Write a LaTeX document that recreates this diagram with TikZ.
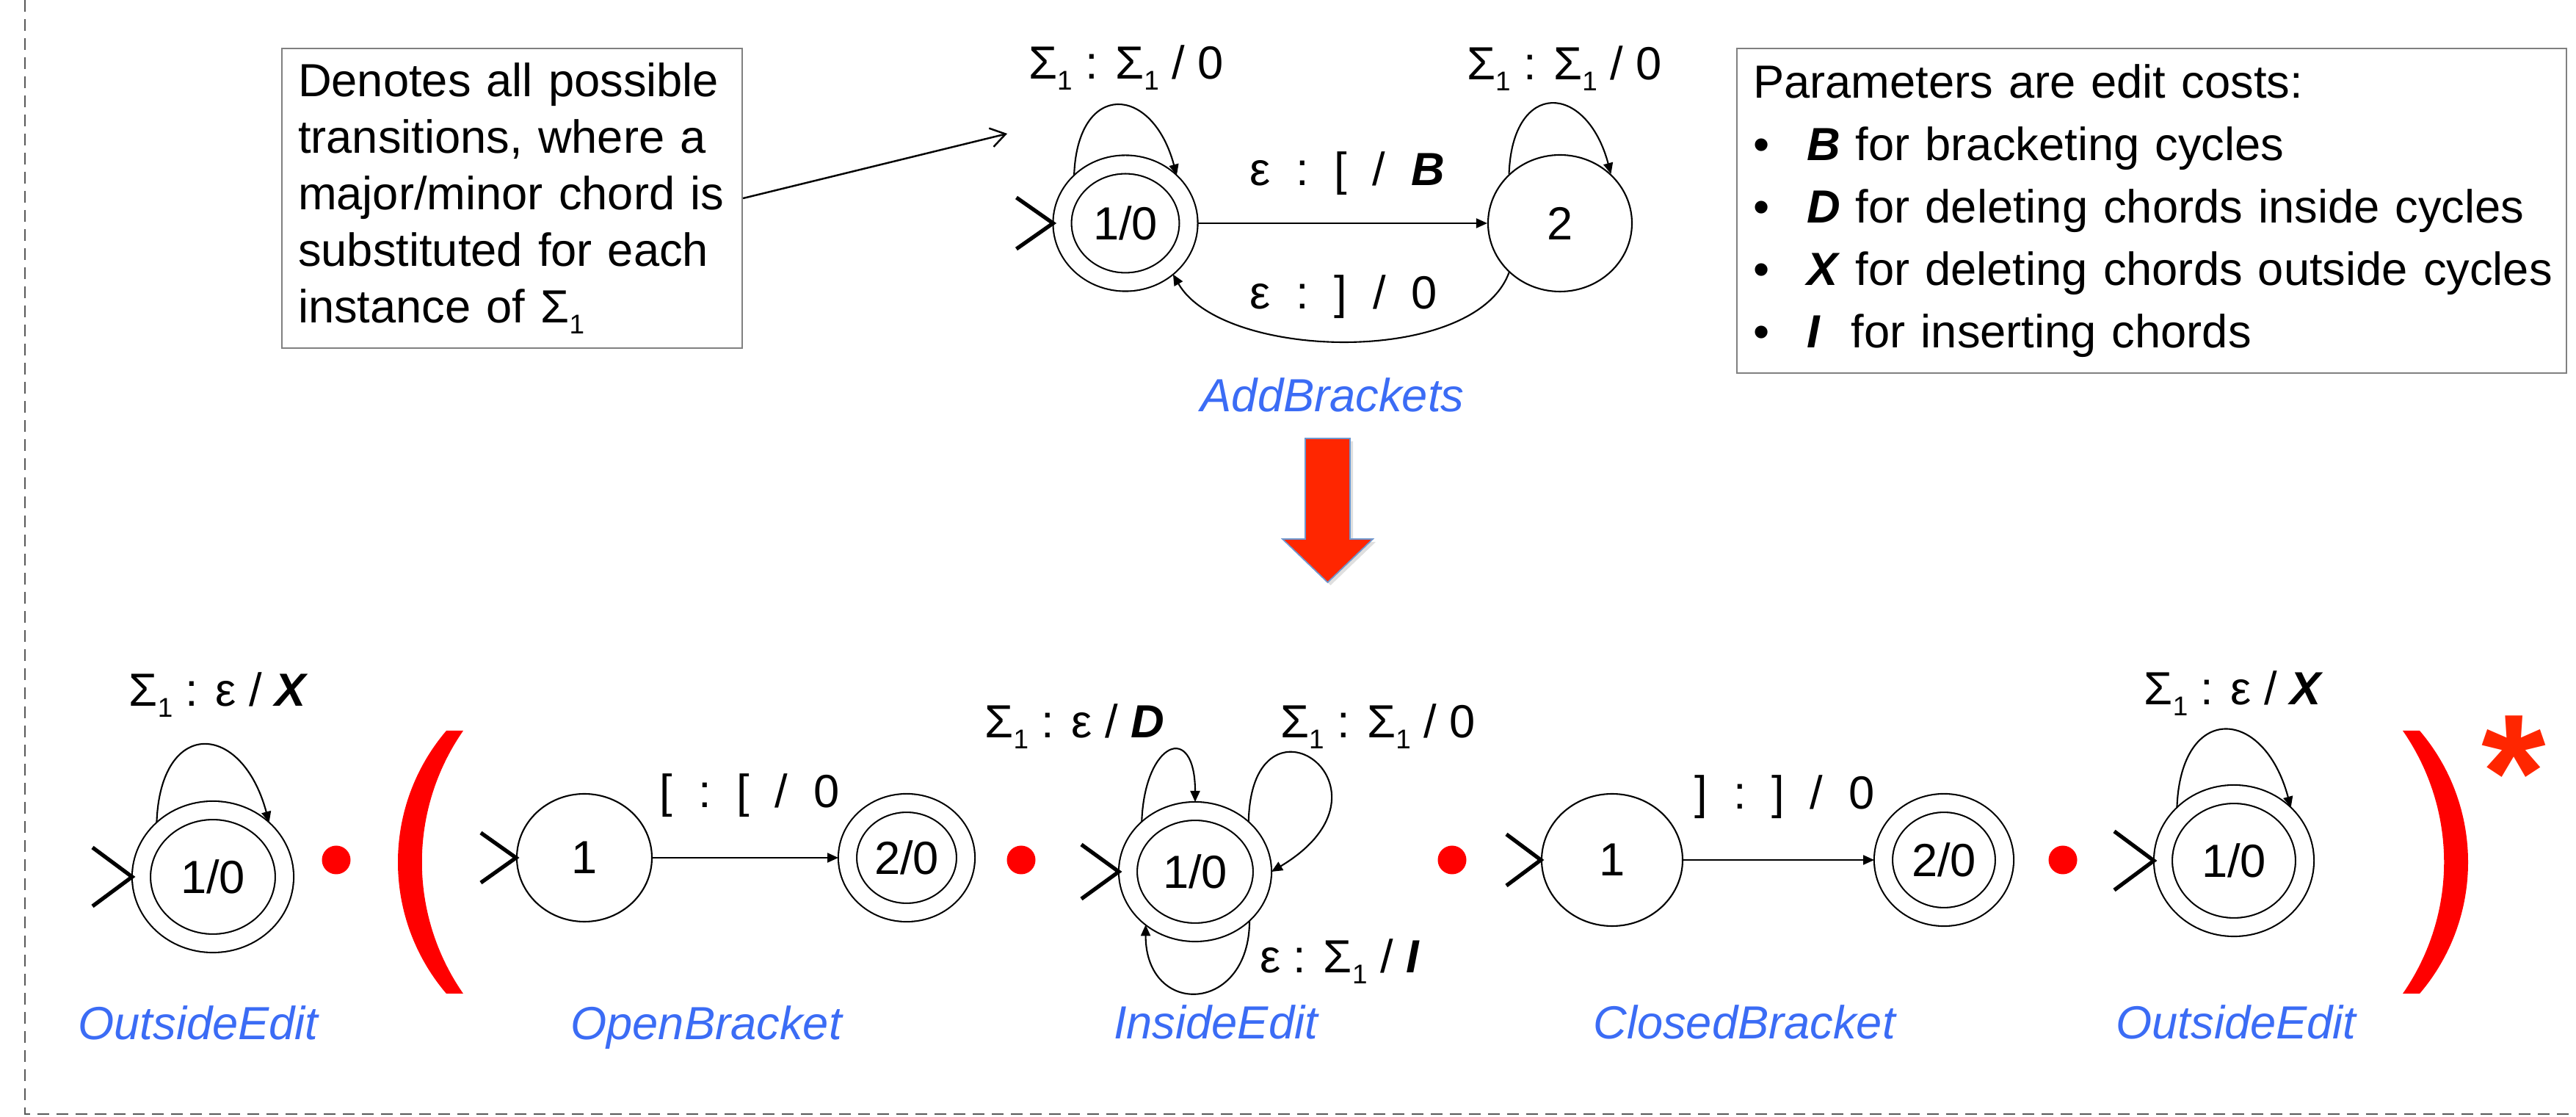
\documentclass[tikz,border=0pt]{standalone}
\usepackage{fontspec}
\setmainfont{Liberation Sans}
\usetikzlibrary{positioning,shapes.geometric,arrows.meta,shadows}
\definecolor{capblue}{RGB}{59,108,245}
\definecolor{arrowred}{RGB}{255,38,0}
\definecolor{rimblue}{RGB}{110,150,205}
\newcommand{\sigone}{Σ\raisebox{-0.23em}{\fontsize{10.5}{10.5}\selectfont 1}}
\newcommand{\cost}[1]{\textbf{\textit{#1}}}
\newcommand{\gp}{\hspace{0.55em}}

\begin{document}
\begin{tikzpicture}[
        font=\fontsize{18}{21.9}\selectfont,
        st/.style={ellipse, draw, line width=0.6pt, inner sep=0pt, minimum width=1.9cm, minimum height=1.8cm},
        accept/.style={double, double distance=0.23cm, outer sep=0.125cm},
        trans/.style={line width=0.6pt, -{Triangle[length=1.5mm,width=1.3mm]}},
        initmark/.style={line width=1.5pt},
        lbl/.style={inner sep=0pt, anchor=base},
        capt/.style={inner sep=0pt, anchor=base, text=capblue, font=\fontsize{18}{21.9}\selectfont\itshape},
        reddot/.style={circle, fill=red, inner sep=0pt, minimum size=0.39cm},
        notebox/.style={draw=gray, line width=0.6pt, align=left, inner xsep=0.22cm, anchor=north west},
    ]
    \useasboundingbox (0,0) rectangle (35.09,15.21);

    % dashed frame (left and bottom sides)
    \draw[gray!70!black, line width=0.7pt, dash pattern=on 0.16cm off 0.1cm] (0.34,15.21) -- (0.34,0.04) -- (35.09,0.04);

    % boxes
    \node[notebox, text width=5.83cm, minimum height=4.08cm] (note) at (3.83,14.56) {Denotes all possible\\transitions, where a\\major/minor chord is\\substituted for each\\instance of \sigone};
    \node[notebox, text width=10.86cm, minimum height=4.42cm, font=\fontsize{18}{24.2}\selectfont] (params) at (23.65,14.56) {Parameters are edit costs:\\
        \mbox{\makebox[0.73cm][l]{\textbullet}\cost{B} for bracketing cycles}\\
        \mbox{\makebox[0.73cm][l]{\textbullet}\cost{D} for deleting chords inside cycles}\\
        \mbox{\makebox[0.73cm][l]{\textbullet}\cost{X} for deleting chords outside cycles}\\
        \mbox{\makebox[0.73cm][l]{\textbullet}\cost{I}\ \ for inserting chords}};

    % AddBrackets
    \node[st, accept, minimum width=1.72cm, minimum height=1.6cm] (a1) at (15.33,12.17) {1/0};
    \node[st, minimum width=1.96cm, minimum height=1.86cm] (a2) at (21.25,12.17) {2};
    \draw[trans] (a1) -- (a2);
    \draw[trans] (a2.224) .. controls +(250:1.36) and +(300:1.36) .. (a1.313);
    \draw[trans] (a1.137) .. controls +(88:1.29) and +(105:1.29) .. (a1.43);
    \draw[trans] (a2.136) .. controls +(88:1.29) and +(105:1.29) .. (a2.44);
    \node[lbl] (la1) at (15.34,14.13) {\sigone{} : \sigone{} / 0};
    \node[lbl] (la2) at (21.31,14.12) {\sigone{} : \sigone{} / 0};
    \node[lbl] (la12) at (18.35,12.68) {ε\gp:\gp[\gp/\gp\cost{B}};
    \node[lbl] (la21) at (18.30,11.00) {ε\gp:\gp]\gp/\gp0};
    \node[capt] (addb) at (18.15,9.60) {AddBrackets};

    \coordinate (tip) at (13.72,13.39);
    \draw[line width=0.7pt, -{Straight Barb[length=2mm,width=2.6mm]}] (note.east) -- (tip);

    % composition arrow
    \filldraw[fill=arrowred, draw=rimblue, line width=0.5pt, drop shadow={opacity=0.25, shadow xshift=0.04cm, shadow yshift=-0.04cm}] (17.78,9.24) -- (17.78,7.87) -- (17.47,7.87) -- (18.085,7.28) -- (18.70,7.87) -- (18.39,7.87) -- (18.39,9.24) -- cycle;

    % OutsideEdit
    \node[st, accept, minimum width=1.95cm, minimum height=1.81cm] (o1) at (2.90,3.27) {1/0};
    \draw[trans] (o1.136) .. controls +(88:1.43) and +(105:1.43) .. (o1.44);
    \node[lbl] (lo1) at (2.98,5.59) {\sigone{} : ε / \cost{X}};
    \node[capt] (out1) at (2.70,1.05) {OutsideEdit};
    \node[reddot] (d1) at (4.58,3.50) {};

    \fill[red] (6.08,5.26) .. controls (5.20,4.23) and (5.20,2.71) .. (6.08,1.68) -- (6.31,1.68) .. controls (5.56,2.76) and (5.56,4.18) .. (6.31,5.26) -- cycle;

    % OpenBracket
    \node[st, minimum width=1.84cm, minimum height=1.74cm] (op1) at (7.96,3.53) {1};
    \node[st, accept, minimum width=1.61cm, minimum height=1.49cm] (op2) at (12.35,3.53) {2/0};
    \draw[trans] (op1) -- (op2);
    \node[lbl] (lop) at (10.21,4.21) {[\gp:\gp[\gp/\gp0};
    \node[capt] (open) at (9.62,1.05) {OpenBracket};
    \node[reddot] (d2) at (13.91,3.50) {};

    % InsideEdit
    \node[st, accept, minimum width=1.83cm, minimum height=1.65cm] (ie) at (16.28,3.34) {1/0};
    \draw[trans] (ie.137) .. controls +(88:1.1) and +(90:1.1) .. (ie.90);
    \draw[trans] (ie.43) .. controls +(0.04,1.96) and +(1.9,1.14) .. (ie.0);
    \draw[trans] (ie.318) .. controls +(270:1.27) and +(270:1.27) .. (ie.227);
    \node[lbl] (lid) at (14.64,5.16) {\sigone{} : ε / \cost{D}};
    \node[lbl] (lis) at (18.77,5.16) {\sigone{} : \sigone{} / 0};
    \node[lbl] (lii) at (18.25,1.96) {ε : \sigone{} / \cost{I}};
    \node[capt] (inside) at (16.56,1.06) {InsideEdit};
    \node[reddot] (d3) at (19.78,3.50) {};

    % ClosedBracket
    \node[st, minimum width=1.92cm, minimum height=1.80cm] (cb1) at (21.96,3.50) {1};
    \node[st, accept, minimum width=1.65cm, minimum height=1.55cm] (cb2) at (26.48,3.50) {2/0};
    \draw[trans] (cb1) -- (cb2);
    \node[lbl] (lcb) at (24.31,4.19) {]\gp:\gp]\gp/\gp0};
    \node[capt] (closed) at (23.76,1.06) {ClosedBracket};
    \node[reddot] (d4) at (28.10,3.50) {};

    % OutsideEdit
    \node[st, accept, minimum width=1.93cm, minimum height=1.81cm] (o2) at (30.43,3.49) {1/0};
    \draw[trans] (o2.137) .. controls +(88:1.43) and +(105:1.43) .. (o2.43);
    \node[lbl] (lo2) at (30.43,5.61) {\sigone{} : ε / \cost{X}};
    \node[capt] (out2) at (30.46,1.06) {OutsideEdit};

    \fill[red] (32.96,5.26) .. controls (33.84,4.23) and (33.84,2.71) .. (32.96,1.68) -- (32.73,1.68) .. controls (33.48,2.76) and (33.48,4.18) .. (32.73,5.26) -- cycle;
    \node[inner sep=0pt, anchor=north, text=arrowred, font=\fontsize{64}{64}\selectfont\bfseries] (star) at (34.24,5.47) {*};

    % start marks
    \foreach \s/\dx/\dy in {a1/0.5/0.35, o1/0.54/0.4, op1/0.48/0.34, ie/0.51/0.37, cb1/0.47/0.35, o2/0.54/0.4}
        \draw[initmark] ([shift={(-\dx,\dy)}]\s.west) -- (\s.west) -- ([shift={(-\dx,-\dy)}]\s.west);
\end{tikzpicture}
\end{document}
